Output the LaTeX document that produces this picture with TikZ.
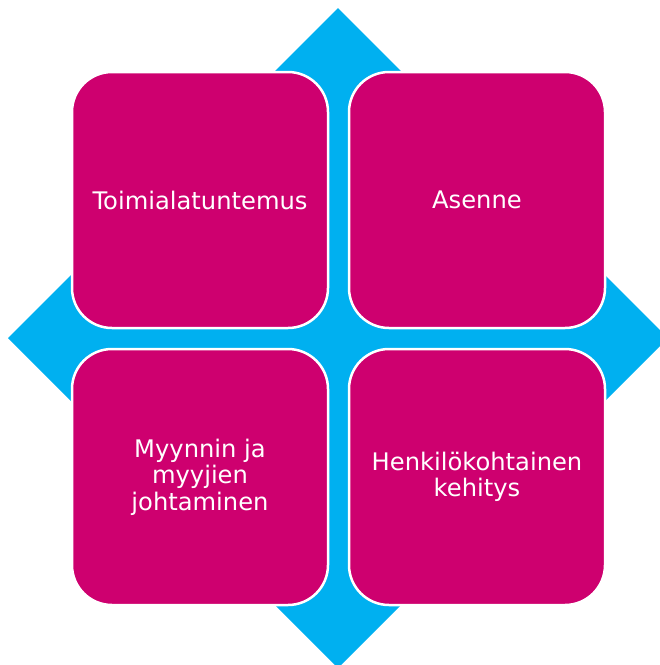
\documentclass[tikz,border=0pt]{standalone}
\usepackage{fontspec}
\setmainfont{DejaVu Sans}
\definecolor{dblue}{RGB}{0,176,240}
\definecolor{dmag}{RGB}{206,0,111}
\begin{document}
\begin{tikzpicture}[x=1pt,y=-1pt,
  sq/.style={draw=white, line width=2.5pt, fill=dmag, rounded corners=40pt,
    minimum width=256pt, minimum height=256pt, text=white, align=center,
    font=\fontsize{24.2}{26.5}\selectfont, inner sep=0pt}]
\useasboundingbox (0,0) rectangle (660,665);
\clip (0,0) rectangle (660,665);
\fill[dblue] (338,8) -- (668,338) -- (338,668) -- (8,338) -- cycle;
\node[sq] (tl) at (200,200) {Toimialatuntemus};
\node[sq] (tr) at (477,200) {Asenne};
\node[sq] (bl) at (200,477) {Myynnin ja\\myyjien\\johtaminen};
\node[sq] (br) at (477,477) {Henkilökohtainen\\kehitys};
\end{tikzpicture}
\end{document}
